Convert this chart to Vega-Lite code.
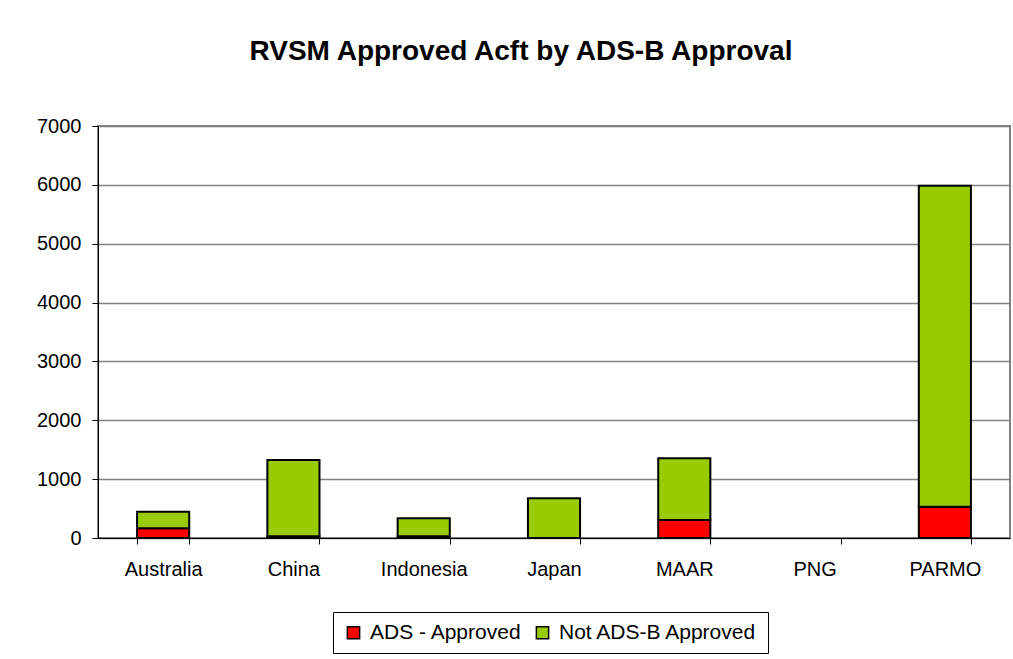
{
  "$schema": "https://vega.github.io/schema/vega-lite/v6.json",
  "width": 912,
  "height": 412,
  "autosize": {"type": "none"},
  "padding": {"left": 98, "top": 126, "right": 3, "bottom": 121},
  "background": "white",
  "title": {
    "text": "RVSM Approved Acft by ADS-B Approval",
    "font": "Liberation Sans",
    "fontSize": 28,
    "fontWeight": "bold",
    "color": "black",
    "anchor": "middle",
    "dx": -33,
    "offset": 50
  },
  "data": {
    "values": [
      {"region": "Australia", "series": "ADS - Approved", "count": 165},
      {"region": "Australia", "series": "Not ADS-B Approved", "count": 282},
      {"region": "China", "series": "ADS - Approved", "count": 30},
      {"region": "China", "series": "Not ADS-B Approved", "count": 1295},
      {"region": "Indonesia", "series": "ADS - Approved", "count": 30},
      {"region": "Indonesia", "series": "Not ADS-B Approved", "count": 305},
      {"region": "Japan", "series": "ADS - Approved", "count": 0},
      {"region": "Japan", "series": "Not ADS-B Approved", "count": 675},
      {"region": "MAAR", "series": "ADS - Approved", "count": 306},
      {"region": "MAAR", "series": "Not ADS-B Approved", "count": 1048},
      {"region": "PNG", "series": "ADS - Approved", "count": 0},
      {"region": "PNG", "series": "Not ADS-B Approved", "count": 0},
      {"region": "PARMO", "series": "ADS - Approved", "count": 532},
      {"region": "PARMO", "series": "Not ADS-B Approved", "count": 5453}
    ]
  },
  "mark": {"type": "bar", "stroke": "black", "strokeWidth": 2},
  "encoding": {
    "x": {
      "field": "region",
      "type": "nominal",
      "sort": ["Australia", "China", "Indonesia", "Japan", "MAAR", "PNG", "PARMO"],
      "scale": {"domain": ["Australia", "China", "Indonesia", "Japan", "MAAR", "PNG", "PARMO"], "paddingInner": 0.6, "paddingOuter": 0.3},
      "axis": {
        "title": null,
        "labelAngle": 0,
        "labelFont": "Liberation Sans",
        "labelFontSize": 20,
        "labelColor": "black",
        "labelPadding": 15,
        "domainColor": "black",
        "tickColor": "black",
        "tickSize": 6,
        "tickBand": "extent",
        "grid": false
      }
    },
    "y": {
      "field": "count",
      "type": "quantitative",
      "stack": "zero",
      "scale": {"domain": [0, 7000], "nice": false},
      "axis": {
        "title": null,
        "values": [0, 1000, 2000, 3000, 4000, 5000, 6000, 7000],
        "format": "d",
        "labelFont": "Liberation Sans",
        "labelFontSize": 20,
        "labelColor": "black",
        "labelPadding": 11,
        "domainColor": "black",
        "tickColor": "black",
        "tickSize": 6,
        "grid": true,
        "gridColor": "#808080",
        "gridWidth": 1.5,
        "gridOpacity": 1
      }
    },
    "color": {
      "field": "series",
      "type": "nominal",
      "scale": {"domain": ["ADS - Approved", "Not ADS-B Approved"], "range": ["#FF0000", "#99CC00"]},
      "legend": {
        "title": null,
        "orient": "none",
        "legendX": 235,
        "legendY": 486,
        "direction": "horizontal",
        "symbolType": "square",
        "symbolSize": 150,
        "symbolStrokeColor": "black",
        "symbolStrokeWidth": 1.5,
        "symbolOpacity": 1,
        "labelFont": "Liberation Sans",
        "labelFontSize": 21,
        "labelColor": "black",
        "labelLimit": 0,
        "labelOffset": 6,
        "columnPadding": 10,
        "padding": 10,
        "strokeColor": "black",
        "offset": 0
      }
    },
    "order": {"field": "series", "sort": "ascending"},
    "opacity": {
      "condition": {"test": "datum.count > 0", "value": 1},
      "value": 0
    }
  },
  "config": {
    "view": {"stroke": "#808080", "strokeWidth": 2}
  }
}
